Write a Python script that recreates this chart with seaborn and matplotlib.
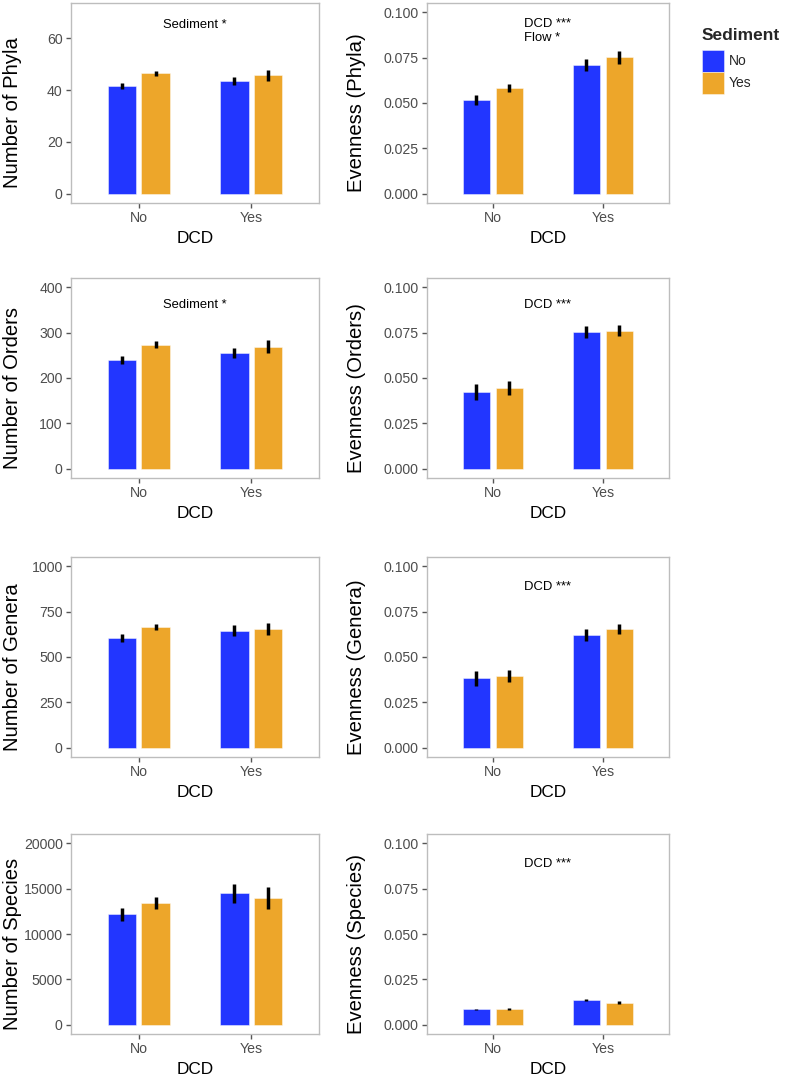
import matplotlib.pyplot as plt
import numpy as np
import pandas as pd
import seaborn as sns
from matplotlib.patches import Patch
from matplotlib.ticker import FormatStrFormatter

# group order: (DCD, Sediment)
dcd = ["No", "No", "Yes", "Yes"]
sediment = ["No", "Yes", "No", "Yes"]
dcd_levels = ["No", "Yes"]
sediment_levels = ["No", "Yes"]

phyla_mean = [41.5, 46.5, 43.5, 45.6]
phyla_se = [1.3, 1.0, 1.5, 2.0]
even_phyla_mean = [0.0516, 0.0583, 0.0709, 0.0751]
even_phyla_se = [0.0027, 0.0023, 0.0035, 0.0037]

orders_mean = [239, 273.5, 255, 269]
orders_se = [8.5, 8, 11.3, 14.7]
even_orders_mean = [0.0423, 0.0446, 0.0753, 0.0760]
even_orders_se = [0.0045, 0.0038, 0.0034, 0.0030]

genera_mean = [604, 664, 644, 653]
genera_se = [21, 18, 30, 34]
even_genera_mean = [0.0382, 0.0396, 0.0622, 0.0653]
even_genera_se = [0.0039, 0.0035, 0.0033, 0.0027]

species_mean = [12182, 13418, 14473, 13964]
species_se = [727, 637, 1055, 1219]
even_species_mean = [0.0085, 0.0087, 0.0137, 0.0123]
even_species_se = [0.0005, 0.0005, 0.0007, 0.0006]

count_ticks = {
    "Phyla": [0, 20, 40, 60],
    "Orders": [0, 100, 200, 300, 400],
    "Genera": [0, 250, 500, 750, 1000],
    "Species": [0, 5000, 10000, 15000, 20000],
}
even_ticks = [0, 0.025, 0.05, 0.075, 0.1]

# ylabel, means, se, ticks, y top, note, note y
panels = [
    [("Number of Phyla", phyla_mean, phyla_se, count_ticks["Phyla"], 70, "Sediment *", 65),
     ("Evenness (Phyla)", even_phyla_mean, even_phyla_se, even_ticks, 0.1, "DCD ***\nFlow *", 0.0897)],
    [("Number of Orders", orders_mean, orders_se, count_ticks["Orders"], 400, "Sediment *", 360),
     ("Evenness (Orders)", even_orders_mean, even_orders_se, even_ticks, 0.1, "DCD ***", 0.0904)],
    [("Number of Genera", genera_mean, genera_se, count_ticks["Genera"], 1000, None, None),
     ("Evenness (Genera)", even_genera_mean, even_genera_se, even_ticks, 0.1, "DCD ***", 0.0884)],
    [("Number of Species", species_mean, species_se, count_ticks["Species"], 20000, None, None),
     ("Evenness (Species)", even_species_mean, even_species_se, even_ticks, 0.1, "DCD ***", 0.0886)],
]

palette = {"No": "#2236FF", "Yes": "#EDA62A"}
border = "#BDBDBD"
tick_grey = "#4D4D4D"

sns.set_style("white")
plt.rcParams["font.family"] = ["Liberation Sans", "DejaVu Sans"]

W, H = 787, 1079
fig = plt.figure(figsize=(W / 100, H / 100), dpi=100)

row_tops = [3, 278, 557, 834]
col_left = [71, 427]
col_width = [248, 242]
label_x = [22, 366]
box_h = 200

for r, row in enumerate(panels):
    for c, (ylab, means, ses, ticks, top, note, note_y) in enumerate(row):
        left = col_left[c] / W
        bottom = 1 - (row_tops[r] + box_h) / H
        ax = fig.add_axes([left, bottom, col_width[c] / W, box_h / H])

        df = pd.DataFrame({"DCD": dcd, "Sediment": sediment, "mean": means, "se": ses})
        sns.barplot(data=df, x="DCD", y="mean", hue="Sediment", order=dcd_levels,
                    hue_order=sediment_levels, palette=palette, width=0.6, gap=1 / 6,
                    errorbar=None, legend=False, ax=ax,
                    edgecolor=(1, 1, 1, 0.45), linewidth=0.7, saturation=1)

        # error bars (mean +/- se) at the bar centres
        for container, sed in zip(ax.containers, sediment_levels):
            for bar, d in zip(container, dcd_levels):
                row_df = df[(df["DCD"] == d) & (df["Sediment"] == sed)].iloc[0]
                x = bar.get_x() + bar.get_width() / 2
                ax.plot([x, x], [row_df["mean"] - row_df["se"], row_df["mean"] + row_df["se"]],
                        color="black", lw=2.5, solid_capstyle="butt")

        ax.set_xlim(-0.6, 1.6)
        ax.set_ylim(-0.05 * top, 1.05 * top)
        ax.set_yticks(ticks)
        if top < 1:
            ax.yaxis.set_major_formatter(FormatStrFormatter("%.3f"))
        else:
            ax.yaxis.set_major_formatter(FormatStrFormatter("%d"))

        for s in ax.spines.values():
            s.set_visible(True)
            s.set_color(border)
            s.set_linewidth(1.0)
        ax.tick_params(axis="both", which="major", length=3.5, width=1.0, color="#555555",
                       labelsize=10.2, labelcolor=tick_grey, pad=2.5,
                       left=True, bottom=True)

        ax.set_xlabel("DCD", fontsize=12.4, color="black", labelpad=4)
        ax.set_ylabel(ylab, fontsize=14.6, color="black")
        ax.yaxis.set_label_coords((label_x[c] - col_left[c]) / col_width[c], 0.45)

        if note is not None:
            ax.text(0.5, note_y, note, ha="center", va="center", multialignment="left",
                    fontsize=9.4, color="black")

handles = [Patch(facecolor=palette[s], edgecolor=(1, 1, 1, 0.45), linewidth=0.7)
           for s in sediment_levels]
leg = fig.legend(handles, sediment_levels, loc="upper left",
                 bbox_to_anchor=(702 / W, 1 - 28 / H), frameon=False,
                 title="Sediment", fontsize=10,
                 title_fontproperties={"weight": "bold", "size": 12.5},
                 handlelength=1.58, handleheight=2.06, labelspacing=0.0,
                 handletextpad=0.35, borderpad=0, borderaxespad=0, alignment="left")
leg._legend_box.sep = 5

fig.savefig("out.png", dpi=100)
